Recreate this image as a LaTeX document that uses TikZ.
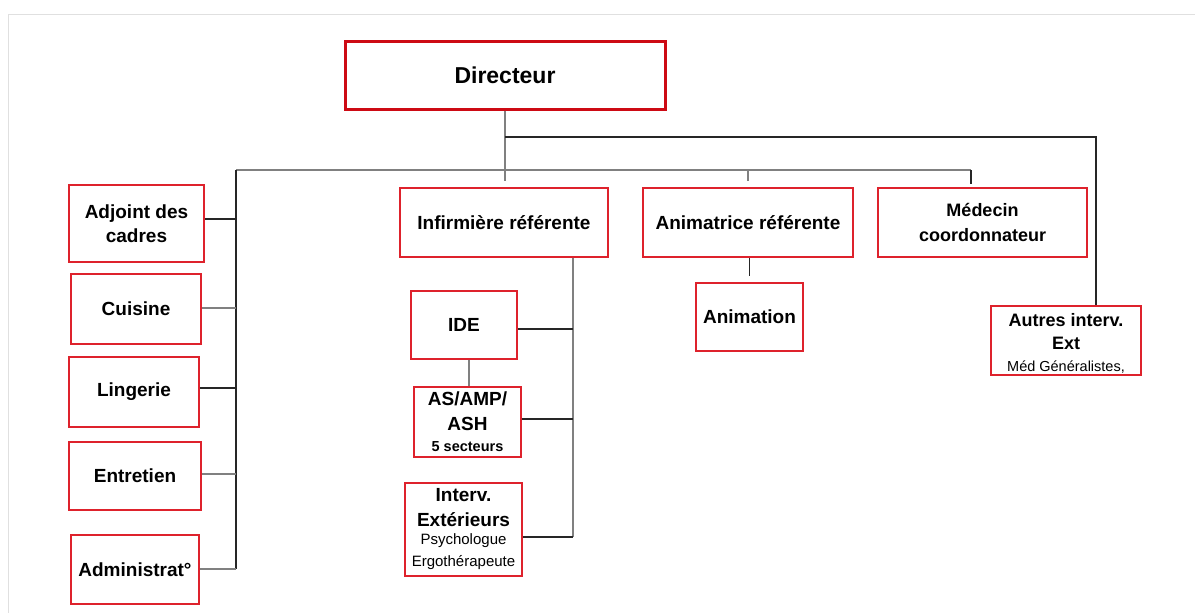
\documentclass[tikz,border=0pt]{standalone}
\usepackage{fontspec}
\setmainfont{Liberation Sans}
\definecolor{boxred}{RGB}{222,34,44}
\definecolor{dirred}{RGB}{205,10,20}
\newcommand\smallreg{\fontsize{15}{17}\selectfont\mdseries}
\newcommand\smallbold{\fontsize{14.5}{17}\selectfont\bfseries}
\begin{document}
\begin{tikzpicture}[x=1pt,y=-1pt,
  box/.style={draw=boxred, line width=1.7pt, inner sep=0pt, align=center,
    font=\fontsize{19}{25}\selectfont\bfseries, text=black},
  lk/.style={draw=black!85, line width=1.3pt},
  lkg/.style={draw=black!50, line width=1.1pt},
  framel/.style={draw=black!12, line width=1pt}]
\useasboundingbox (0,0) rectangle (1195,613);
\fill[white] (0,0) rectangle (1195,613);
\draw[framel] (8,613) -- (8,14) -- (1195,14);

% boxes
\node[box, draw=dirred, line width=3pt, minimum width=320pt, minimum height=68pt,
  font=\fontsize{23}{28}\selectfont\bfseries] (dir) at (505,75) {Directeur};
\node[box, minimum width=135pt, minimum height=77pt] (adj) at (136.5,223.5) {Adjoint des\\[-1pt]cadres};
\node[box, minimum width=130pt, minimum height=70pt] (cui) at (136,309) {Cuisine};
\node[box, minimum width=130pt, minimum height=70pt] (lin) at (134,392) {Lingerie};
\node[box, minimum width=132pt, minimum height=68pt] (ent) at (135,476) {Entretien};
\node[box, minimum width=128pt, minimum height=69pt] (adm) at (135,569.5) {Administrat°};
\node[box, minimum width=208pt, minimum height=69pt] (inf) at (504,222.5) {Infirmière référente};
\node[box, minimum width=106pt, minimum height=68pt] (ide) at (464,325) {IDE};
\node[box, minimum width=107pt, minimum height=70pt] (as) at (467.5,422) {AS/AMP/\\ASH\\[-4pt]\smallbold 5 secteurs};
\node[box, minimum width=117pt, minimum height=93pt] (int) at (463.5,529.5)
  {Interv.\\Extérieurs\\[-7pt]\smallreg Psychologue\\[-3pt]\smallreg Ergothérapeute};
\node[box, minimum width=210pt, minimum height=69pt] (ani) at (748,222.5) {Animatrice référente};
\node[box, minimum width=107pt, minimum height=68pt] (anm) at (749.5,317) {Animation};
\node[box, minimum width=209pt, minimum height=69pt,
  font=\fontsize{18}{25}\selectfont\bfseries] (med) at (982.5,222.5) {Médecin\\coordonnateur};
\node[box, minimum width=150pt, minimum height=69pt,
  font=\fontsize{18}{25}\selectfont\bfseries] (aut) at (1066,340.5)
  {\rule{0pt}{19.5pt}Autres interv.\\[-2pt]Ext\\[-3pt]{\fontsize{14.5}{17}\selectfont\mdseries Méd Généralistes,}};

% junction coordinates
\coordinate (jU) at (505,137);
\coordinate (cR) at (1096,137);
\coordinate (lL) at (236,170);
\coordinate (lR) at (971,170);
\coordinate (lA) at (748,170);
\coordinate (lB) at (236,569);
\coordinate (cAdj) at (236,219);
\coordinate (cCui) at (236,308);
\coordinate (cLin) at (236,388);
\coordinate (cEnt) at (236,474);
\coordinate (rV) at (573,0);
\coordinate (rIde) at (573,329);
\coordinate (rAs) at (573,419);
\coordinate (rBot) at (573,537);
\coordinate (cIA) at (469,0);

% connectors
\draw[lkg, shorten >=6pt] (dir.south) -- (dir.south |- inf.north);
\draw[lk] (jU) -- (cR) -- (cR |- aut.north);
\draw[lkg] (lL) -- (lR);
\draw[lk, shorten >=3pt] (lR) -- (lR |- med.north);
\draw[lkg, shorten >=6pt] (lA) -- (lA |- ani.north);
\draw[lk] (lL) -- (lB);
\draw[lk] (cAdj -| adj.east) -- (cAdj);
\draw[lkg] (cCui -| cui.east) -- (cCui);
\draw[lk] (cLin -| lin.east) -- (cLin);
\draw[lkg] (cEnt -| ent.east) -- (cEnt);
\draw[lkg] (lB -| adm.east) -- (lB);
\draw[lkg] (rV |- inf.south) -- (rBot);
\draw[lk] (rIde -| ide.east) -- (rIde);
\draw[lk] (rAs -| as.east) -- (rAs);
\draw[lk] (rBot -| int.east) -- (rBot);
\draw[lkg] (cIA |- ide.south) -- (cIA |- as.north);
\draw[lk, shorten >=6pt] (ani.south -| anm.north) -- (anm.north);
\end{tikzpicture}
\end{document}
